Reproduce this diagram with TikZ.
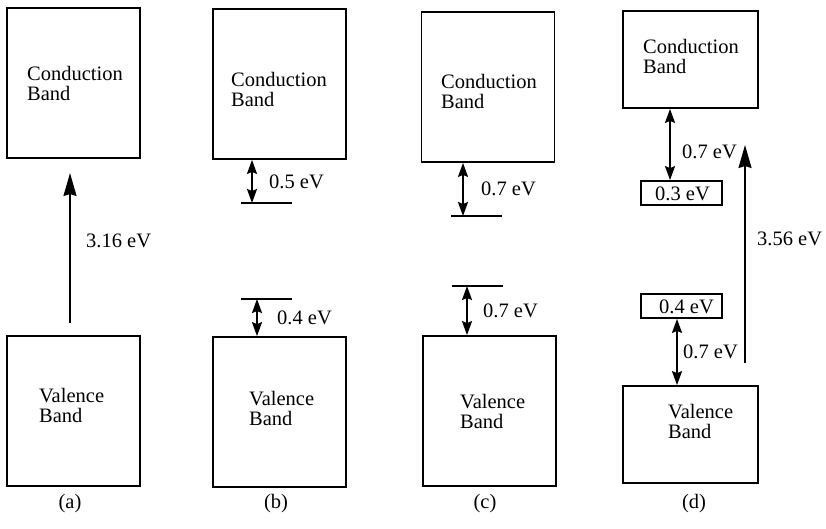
\documentclass[tikz,border=0pt]{standalone}
\usepackage{fontspec}
\setmainfont{Liberation Serif}
\usetikzlibrary{arrows.meta}
\begin{document}
\begin{tikzpicture}[x=1pt,y=-1pt,
  bandbox/.style={draw, line width=1.8pt, minimum width=133pt, minimum height=150pt, inner sep=0pt},
  bandboxd/.style={draw, line width=1.8pt, minimum width=135pt, minimum height=97pt, inner sep=0pt},
  lvlbox/.style={draw, line width=1.8pt, minimum width=81pt, minimum height=24pt, inner sep=0pt},
  txt/.style={anchor=base west, inner sep=0pt, font=\fontsize{20.5}{20.5}\selectfont},
  captxt/.style={anchor=base, inner sep=0pt, font=\fontsize{20.5}{20.5}\selectfont},
  lvl/.style={line width=1.8pt},
  bigarrow/.style={line width=1.8pt, -{Stealth[length=23pt,width=13pt,inset=2pt]}},
  dblarrow/.style={line width=1.8pt, {Stealth[length=14pt,width=10pt,inset=2pt]}-{Stealth[length=14pt,width=10pt,inset=2pt]}}
]
\useasboundingbox (0,0) rectangle (826,528);

% ---------- (a)
\node[bandbox] (ca) at (73.5,83) {};
\node[bandbox] (va) at (73.5,411) {};
\node[txt] (ca1) at (27,80) {Conduction};
\node[txt] (ca2) at (27,100) {Band};
\node[txt] (va1) at (39,402) {Valence};
\node[txt] (va2) at (39,422) {Band};
\coordinate (aS) at (70,323);
\coordinate (aE) at (70,173);
\draw[bigarrow] (aS) -- (aE);
\node[txt] (ga) at (86,247) {3.16 eV};
\node[captxt] (la) at (70,508) {(a)};

% ---------- (b)
\node[bandbox] (cb) at (279.5,84) {};
\node[bandbox] (vb) at (279.5,412) {};
\node[txt] (cb1) at (231,86) {Conduction};
\node[txt] (cb2) at (231,106) {Band};
\node[txt] (vb1) at (249,405) {Valence};
\node[txt] (vb2) at (249,425) {Band};
\coordinate (bd1) at (241,203);
\coordinate (bd2) at (292,203);
\draw[lvl] (bd1) -- (bd2);
\coordinate (bdA) at (252,203);
\draw[dblarrow] (cb.south -| bdA) -- (bdA);
\node[txt] (gb1) at (269,188) {0.5 eV};
\coordinate (ba1) at (241,299);
\coordinate (ba2) at (292,299);
\draw[lvl] (ba1) -- (ba2);
\coordinate (baA) at (257,299);
\draw[dblarrow] (baA) -- (vb.north -| baA);
\node[txt] (gb2) at (277,324) {0.4 eV};
\node[captxt] (lb) at (276,508) {(b)};

% ---------- (c)
\node[bandbox] (cc) at (488,87) {};
\node[bandbox] (vc) at (489.5,411) {};
\node[txt] (cc1) at (441,88) {Conduction};
\node[txt] (cc2) at (441,108) {Band};
\node[txt] (vc1) at (460,408) {Valence};
\node[txt] (vc2) at (460,428) {Band};
\coordinate (cd1) at (451,216);
\coordinate (cd2) at (502,216);
\draw[lvl] (cd1) -- (cd2);
\coordinate (cdA) at (463,216);
\draw[dblarrow] (cc.south -| cdA) -- (cdA);
\node[txt] (gc1) at (481,195) {0.7 eV};
\coordinate (ca1p) at (452,286);
\coordinate (ca2p) at (503,286);
\draw[lvl] (ca1p) -- (ca2p);
\coordinate (caA) at (467,286);
\draw[dblarrow] (caA) -- (vc.north -| caA);
\node[txt] (gc2) at (483,317) {0.7 eV};
\node[captxt] (lc) at (485,508) {(c)};

% ---------- (d)
\node[bandboxd] (cdd) at (690.5,59.5) {};
\node[bandboxd] (vd) at (690.5,434.5) {};
\node[txt] (cd1t) at (643,53) {Conduction};
\node[txt] (cd2t) at (643,73) {Band};
\node[txt] (vd1) at (668,418) {Valence};
\node[txt] (vd2) at (668,438) {Band};
\node[lvlbox] (b03) at (681.5,193) {};
\node[txt] (t03) at (655,200) {0.3 eV};
\node[lvlbox] (b04) at (681.5,306) {};
\node[txt] (t04) at (659,313) {0.4 eV};
\coordinate (dA1) at (670,0);
\draw[dblarrow] (cdd.south -| dA1) -- (b03.north -| dA1);
\node[txt] (gd1) at (682,158) {0.7 eV};
\coordinate (dA2) at (677,0);
\draw[dblarrow] (b04.south -| dA2) -- (vd.north -| dA2);
\node[txt] (gd2) at (683,358) {0.7 eV};
\coordinate (dS) at (745,363);
\coordinate (dE) at (745,145);
\draw[bigarrow] (dS) -- (dE);
\node[txt] (gd3) at (757,245) {3.56 eV};
\node[captxt] (ld) at (694,508) {(d)};
\end{tikzpicture}
\end{document}
